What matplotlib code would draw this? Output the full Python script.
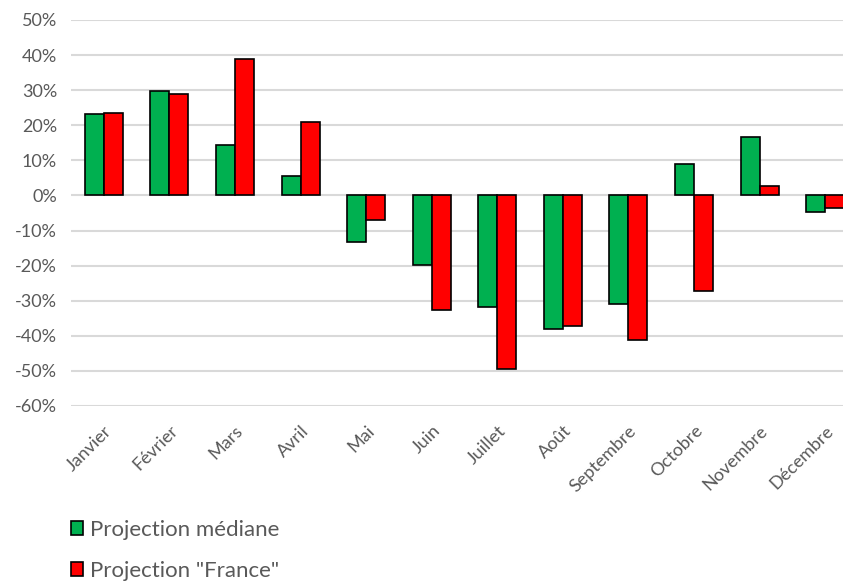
import matplotlib.pyplot as plt
import numpy as np
from matplotlib.ticker import FuncFormatter

plt.rcParams['font.family'] = ['Lato', 'DejaVu Sans']

mois = ['Janvier', 'Février', 'Mars', 'Avril', 'Mai', 'Juin', 'Juillet',
        'Août', 'Septembre', 'Octobre', 'Novembre', 'Décembre']
mediane = [23.1, 29.9, 14.5, 5.6, -13.4, -19.8, -31.8, -38.1, -30.9, 9.0, 16.6, -4.6]
france = [23.4, 29.0, 38.9, 20.9, -7.1, -32.6, -49.4, -37.2, -41.3, -27.2, 2.7, -3.7]

vert = '#00b050'
rouge = '#ff0000'

fig = plt.figure(figsize=(8.43, 5.83), dpi=100)
# axes run a little past the right edge, like the cropped original
ax = fig.add_axes([71 / 843, 1 - 406 / 583, (858 - 71) / 843, 386 / 583])

x = np.arange(len(mois))
w = 0.29
ax.bar(x - w / 2, mediane, w, color=vert, edgecolor='black', linewidth=1.2, zorder=3,
       label='Projection médiane')
ax.bar(x + w / 2, france, w, color=rouge, edgecolor='black', linewidth=1.2, zorder=3,
       label='Projection "France"')

ax.set_ylim(-60, 50)
ax.set_xlim(-0.5, len(mois) - 0.5)
ax.set_yticks(range(-60, 51, 10))
ax.yaxis.set_major_formatter(FuncFormatter(lambda v, p: '%d%%' % v))
ax.grid(axis='y', color='#d9d9d9', linewidth=1.5, zorder=0)
for s in ax.spines.values():
    s.set_visible(False)
ax.tick_params(length=0, colors='#595959', labelsize=13)
ax.tick_params(axis='y', pad=10)
ax.tick_params(axis='x', pad=12)
ax.set_xticks(x)
ax.set_xticklabels(mois, rotation=45, ha='right', rotation_mode='anchor')

fig.legend(loc='upper left', bbox_to_anchor=(51 / 843, 1 - 500 / 583), frameon=False,
           fontsize=16, handlelength=0.55, handleheight=0.6, handletextpad=0.3,
           labelspacing=0.95, labelcolor='#595959')

fig.savefig('out.png', dpi=100)
